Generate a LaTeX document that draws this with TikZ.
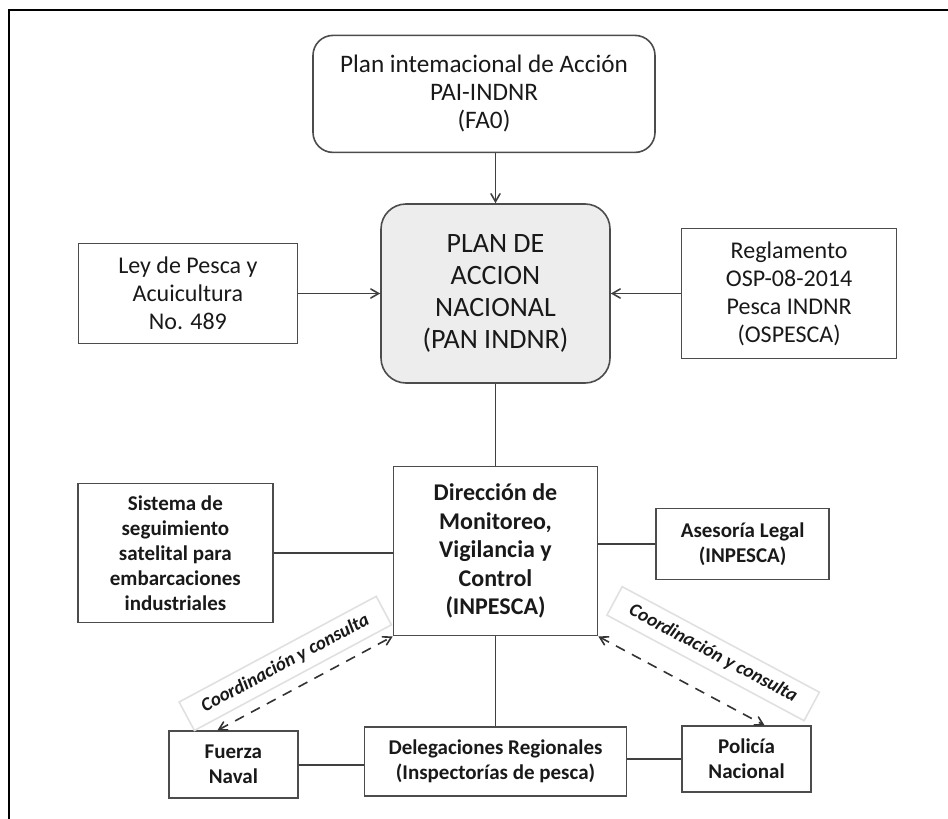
\documentclass[tikz,border=0pt]{standalone}
\usepackage{fontspec}
\setmainfont{Carlito}
\usetikzlibrary{arrows}
\usetikzlibrary{positioning}

\begin{document}
\begin{tikzpicture}[x=0.5pt, y=-0.5pt, >=angle 60,
    box/.style={draw=black!70, line width=0.8pt, align=center, inner sep=0pt, text=black!90},
    big/.style={font=\fontsize{12}{14}\selectfont},
    small/.style={font=\fontsize{10.5}{12.5}\selectfont\bfseries},
    lbl/.style={draw=black!12, solid, sloped, inner ysep=4pt, inner xsep=9pt, text=black!90,
                font=\fontsize{9.5}{11}\selectfont\bfseries\itshape}]
      \useasboundingbox (0,0) rectangle (948,819);
      \draw[line width=1.2pt] (948,10) -- (9,10) -- (9,830);

      \node[box, rounded corners=12.5pt, fill=black!7, minimum width=114.5pt,
            minimum height=89.5pt, font=\fontsize{14}{16}\selectfont] (pan)
           at (495.5,293.5) {PLAN DE\\ACCION\\NACIONAL\\(PAN INDNR)};
      \node[box, rounded corners=10pt, minimum width=171pt, minimum height=58.5pt,
            above=25pt of pan, xshift=-5.75pt, font=\fontsize{12.6}{14}\selectfont] (pai)
           {Plan intemacional de Acción\\PAI-INDNR\\(FA0)};
      \node[box, big, minimum width=109.5pt, minimum height=50pt, left=41pt of pan] (ley)
           {Ley de Pesca y\\Acuicultura\\No. 489};
      \node[box, big, minimum width=107.5pt, minimum height=65pt, right=35pt of pan] (reg)
           {Reglamento\\OSP-08-2014\\Pesca INDNR\\(OSPESCA)};

      \node[box, minimum width=102pt, minimum height=84.5pt, below=41pt of pan,
            font=\fontsize{12}{14.3}\selectfont\bfseries] (dir)
           {Dirección de\\Monitoreo,\\Vigilancia y\\Control\\(INPESCA)};
      \node[box, small, minimum width=97.5pt, minimum height=69.5pt,
            left=59.5pt of dir, yshift=-1pt] (sis)
           {Sistema de\\seguimiento\\satelital para\\embarcaciones\\industriales};
      \node[box, small, minimum width=86.5pt, minimum height=35.5pt,
            right=28.5pt of dir, yshift=3.5pt] (ase)
           {Asesoría Legal\\(INPESCA)};

      \node[box, small, minimum width=131pt, minimum height=34.5pt, below=45pt of dir] (del)
           {Delegaciones Regionales\\(Inspectorías de pesca)};
      \node[box, small, minimum width=64.5pt, minimum height=33.5pt,
            left=32.5pt of del, yshift=-1.5pt] (fue)
           {Fuerza\\Naval};
      \node[box, small, minimum width=64.5pt, minimum height=33pt,
            right=27pt of del, yshift=1.25pt] (pol)
           {Policía\\Nacional};

      \draw[->, draw=black!75, line width=0.8pt] (pai.south -| pan.north) -- (pan.north);
      \draw[->, draw=black!75, line width=0.8pt] (ley) -- (ley -| pan.west);
      \draw[->, draw=black!75, line width=0.8pt] (reg) -- (reg -| pan.east);
      \draw[draw=black!75, line width=0.8pt] (pan) -- (dir);
      \draw[draw=black!75, line width=0.8pt] (sis.east) -- (sis.east -| dir.west);
      \draw[draw=black!75, line width=0.8pt] (ase.west -| dir.east) -- (ase.west);
      \draw[draw=black!75, line width=0.8pt] (dir) -- (del);
      \draw[draw=black!75, line width=0.8pt] (fue.east) -- (fue.east -| del.west);
      \draw[draw=black!75, line width=0.8pt] (del.east |- pol) -- (pol.west);

      \draw[<->, draw=black!80, line width=0.8pt, dash pattern=on 5pt off 4pt]
           ([xshift=-8pt]fue.north) -- node[lbl, pos=0.46, above=5pt] (coord-l)
           {Coordinación y consulta} (dir.south west);
      \draw[<->, draw=black!80, line width=0.8pt, dash pattern=on 5pt off 4pt]
           (dir.south east) -- node[lbl, pos=0.58, above=11pt] (coord-r)
           {Coordinación y consulta} ([xshift=9pt]pol.north);
    \end{tikzpicture}
\end{document}
